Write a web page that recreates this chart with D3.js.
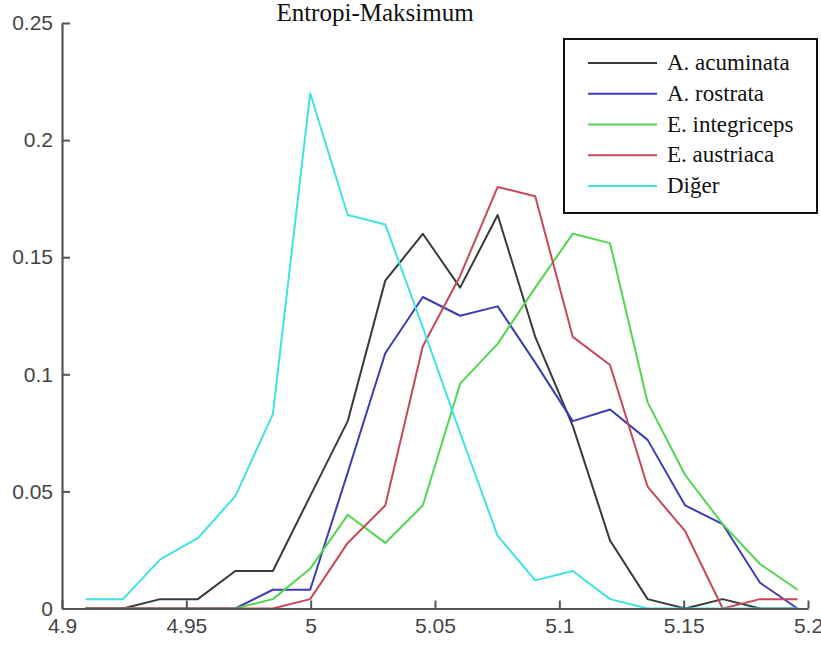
<!DOCTYPE html>
<html>
<head>
<meta charset="utf-8">
<script src="https://cdn.jsdelivr.net/npm/d3@7"></script>
<style>
  html, body { margin: 0; padding: 0; background: #ffffff; }
  svg { display: block; }
</style>
</head>
<body>
<svg id="chart" width="821" height="650"></svg>
<script>
// ---- data ----
const xValues = [4.9094, 4.9245, 4.9395, 4.9546, 4.9697, 4.9848, 4.9998, 5.0149, 5.0300, 5.0451,
                 5.0601, 5.0752, 5.0903, 5.1054, 5.1204, 5.1355, 5.1506, 5.1657, 5.1807, 5.1958];
const acuminata   = [0, 0, 0.004, 0.004, 0.016, 0.016, 0.048, 0.080, 0.140, 0.160,
                     0.137, 0.168, 0.116, 0.078, 0.029, 0.004, 0, 0.004, 0, 0];
const rostrata    = [0, 0, 0, 0, 0, 0.008, 0.008, 0.058, 0.109, 0.133,
                     0.125, 0.129, 0.105, 0.080, 0.085, 0.072, 0.044, 0.036, 0.011, 0];
const integriceps = [0, 0, 0, 0, 0, 0.004, 0.017, 0.040, 0.028, 0.044,
                     0.096, 0.113, 0.137, 0.160, 0.156, 0.088, 0.057, 0.036, 0.019, 0.008];
const austriaca   = [0, 0, 0, 0, 0, 0, 0.004, 0.028, 0.044, 0.112,
                     0.142, 0.180, 0.176, 0.116, 0.104, 0.052, 0.033, 0, 0.004, 0.004];
const diger       = [0.004, 0.004, 0.021, 0.030, 0.048, 0.083, 0.220, 0.168, 0.164, 0.120,
                     0.075, 0.031, 0.012, 0.016, 0.004, 0, 0, 0, 0, 0];
const seriesNames = ["A. acuminata", "A. rostrata", "E. integriceps", "E. austriaca", "Diğer"];
const seriesData  = [acuminata, rostrata, integriceps, austriaca, diger];
const seriesColors = ["#3a3a3a", "#3c3cb4", "#50d650", "#c6485a", "#40e2e2"];
const xTicks = [4.9, 4.95, 5, 5.05, 5.1, 5.15, 5.2];
const yTicks = [0, 0.05, 0.1, 0.15, 0.2, 0.25];
const title = "Entropi-Maksimum";

// ---- layout ----
const svg = d3.select("#chart");
const x = d3.scaleLinear().domain([4.9, 5.2]).range([62, 808]);
const y = d3.scaleLinear().domain([0, 0.25]).range([608.5, 23]);
const fmt = d3.format("~g");

// lines (drawn first, axes on top like MATLAB box)
const line = d3.line().x((d, i) => x(xValues[i])).y(d => y(d));
seriesData.forEach((s, k) => {
  svg.append("path")
    .datum(s)
    .attr("fill", "none")
    .attr("stroke", seriesColors[k])
    .attr("stroke-width", 2)
    .attr("stroke-linejoin", "round")
    .attr("d", line);
});

// axes
const axisColor = "#555";
const gx = svg.append("g").attr("transform", `translate(0,${y(0)})`)
  .call(d3.axisBottom(x).tickValues(xTicks).tickFormat(fmt).tickSizeInner(-8).tickSizeOuter(0).tickPadding(10));
const gy = svg.append("g").attr("transform", `translate(${x(4.9)},0)`)
  .call(d3.axisLeft(y).tickValues(yTicks).tickFormat(fmt).tickSizeInner(-8).tickSizeOuter(0).tickPadding(9));
[gx, gy].forEach(g => {
  g.select(".domain").attr("stroke", axisColor).attr("stroke-width", 2.2);
  g.selectAll(".tick line").attr("stroke", axisColor).attr("stroke-width", 2);
  g.selectAll(".tick text")
    .attr("fill", "#444")
    .style("font-family", "'Liberation Sans', Arial, sans-serif")
    .style("font-size", "21px");
});

// title
svg.append("text")
  .attr("x", 375).attr("y", 21)
  .attr("text-anchor", "middle")
  .style("font-family", "'Liberation Serif', 'Times New Roman', serif")
  .style("font-size", "25px")
  .attr("fill", "#111")
  .text(title);

// legend
const lg = svg.append("g");
lg.append("rect")
  .attr("x", 564).attr("y", 39).attr("width", 253).attr("height", 174)
  .attr("fill", "#fff").attr("stroke", "#111").attr("stroke-width", 2);
seriesNames.forEach((name, k) => {
  const base = 70 + k * 30.75;
  lg.append("line")
    .attr("x1", 588).attr("x2", 657)
    .attr("y1", base - 7).attr("y2", base - 7)
    .attr("stroke", seriesColors[k]).attr("stroke-width", 2);
  lg.append("text")
    .attr("x", 667).attr("y", base)
    .style("font-family", "'Liberation Serif', 'Times New Roman', serif")
    .style("font-size", "23px")
    .attr("fill", "#111")
    .text(name);
});
</script>
</body>
</html>
